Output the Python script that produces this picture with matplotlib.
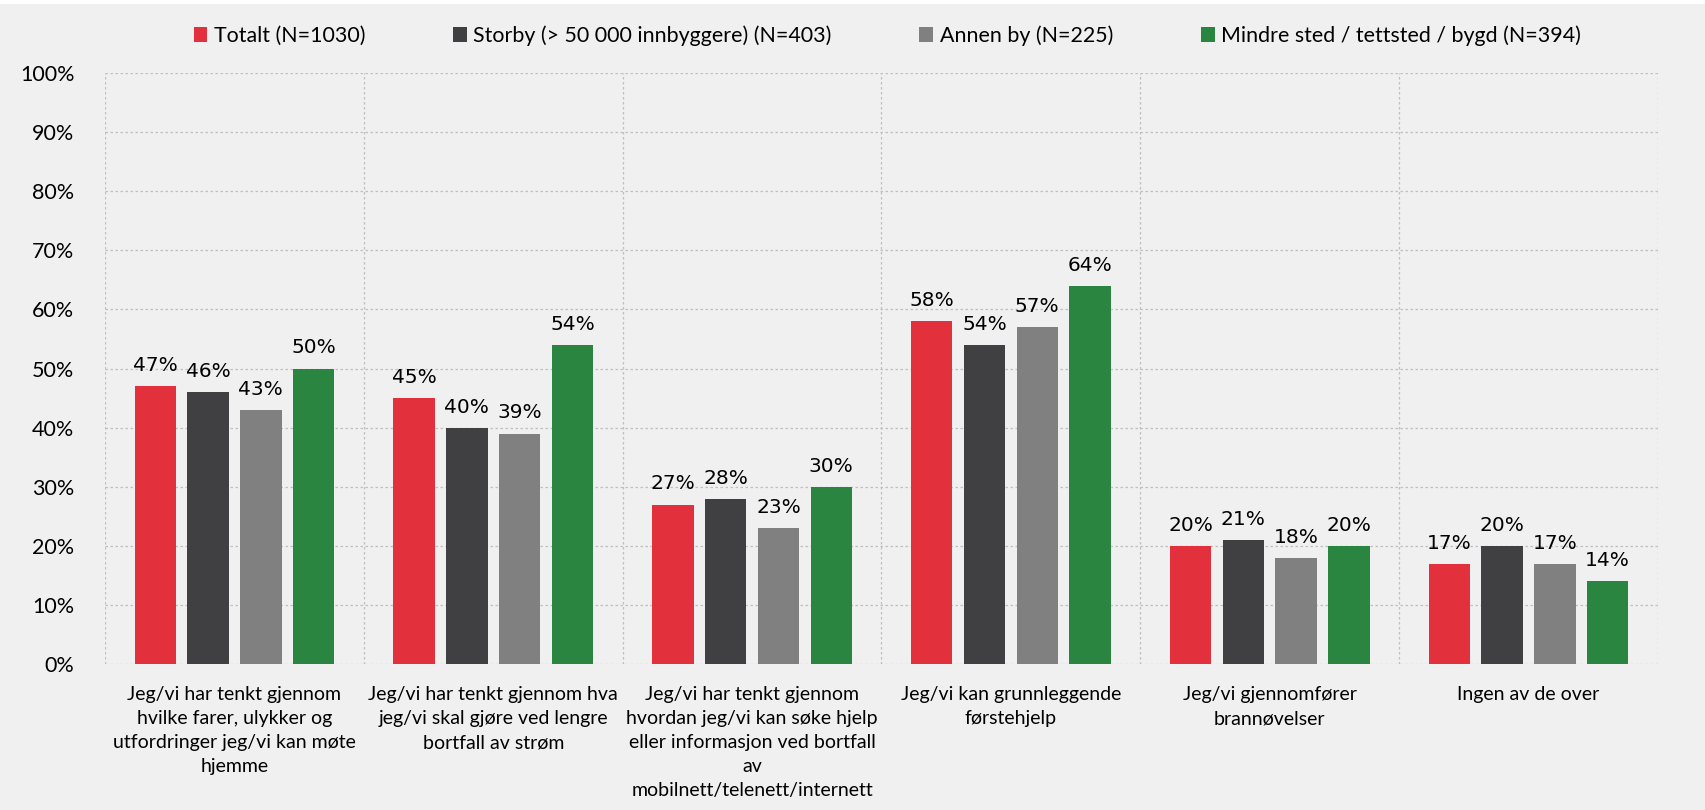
import matplotlib
matplotlib.use("Agg")
import matplotlib.pyplot as plt
from matplotlib.patches import Rectangle
import numpy as np

categories = [
    "Jeg/vi har tenkt gjennom\nhvilke farer, ulykker og\nutfordringer jeg/vi kan møte\nhjemme",
    "Jeg/vi har tenkt gjennom hva\njeg/vi skal gjøre ved lengre\nbortfall av strøm",
    "Jeg/vi har tenkt gjennom\nhvordan jeg/vi kan søke hjelp\neller informasjon ved bortfall\nav\nmobilnett/telenett/internett",
    "Jeg/vi kan grunnleggende\nførstehjelp",
    "Jeg/vi gjennomfører\nbrannøvelser",
    "Ingen av de over",
]
series_names = [
    "Totalt (N=1030)",
    "Storby (> 50 000 innbyggere) (N=403)",
    "Annen by (N=225)",
    "Mindre sted / tettsted / bygd (N=394)",
]
totalt = [47, 45, 27, 58, 20, 17]
storby = [46, 40, 28, 54, 21, 20]
annen_by = [43, 39, 23, 57, 18, 17]
mindre_sted = [50, 54, 30, 64, 20, 14]
series_values = [totalt, storby, annen_by, mindre_sted]
colors = ["#E3303D", "#404042", "#808080", "#2A8540"]
yticks = [0, 10, 20, 30, 40, 50, 60, 70, 80, 90, 100]

font = "Lato"
bg = "#F0F0F0"

fig = plt.figure(figsize=(17.05, 8.10), dpi=100, facecolor=bg)
ax = fig.add_axes([0.0616, 0.180, 0.9108, 0.730])
ax.set_facecolor(bg)

x = np.arange(len(categories))
spacing = 0.204
width = 0.16
handles = []
for k, (name, vals, col) in enumerate(zip(series_names, series_values, colors)):
    pos = x + (k - 1.5) * spacing
    b = ax.bar(pos, vals, width=width, color=col, label=name, zorder=3)
    handles.append(b)
    for p, v in zip(pos, vals):
        ax.annotate(f"{v}%", (p, v), xytext=(0, 8), textcoords="offset points",
                    ha="center", va="bottom", fontsize=14.5, color="#000000",
                    family="DejaVu Sans")

ax.set_xlim(-0.5, len(categories) - 0.5)
ax.set_ylim(0, 100)
ax.set_yticks(yticks)
ax.set_yticklabels([f"{t}%" for t in yticks], fontsize=15.5, family=font)
ax.set_xticks(x)
ax.set_xticklabels(categories, fontsize=14, family=font, linespacing=1.5, va="top")
ax.set_xticks(np.arange(len(categories) + 1) - 0.5, minor=True)
ax.tick_params(axis="both", which="both", length=0)
ax.tick_params(axis="x", pad=16)
ax.tick_params(axis="y", pad=22)
ax.grid(axis="y", which="major", color="#BFBFBF", linestyle=(0, (2, 2)), linewidth=0.9, zorder=0)
ax.grid(axis="x", which="minor", color="#BFBFBF", linestyle=(0, (2, 2)), linewidth=0.9, zorder=0)
for s in ax.spines.values():
    s.set_visible(False)

leg = fig.legend(handles=handles, labels=series_names, loc="center", ncol=4,
                 bbox_to_anchor=(0.5204, 0.956), frameon=False,
                 prop={"family": font, "size": 15.4}, handlelength=0.65, handleheight=0.65,
                 handletextpad=0.3, columnspacing=4.1)

fig.patches.append(Rectangle((0, 0.995), 1, 0.005, transform=fig.transFigure,
                             facecolor="white", edgecolor="none"))

fig.savefig("out.png", dpi=100, facecolor=bg)
